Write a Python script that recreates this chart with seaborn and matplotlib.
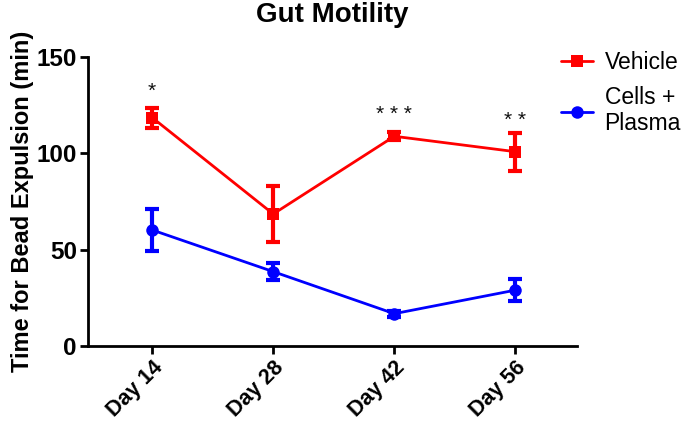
import numpy as np
import pandas as pd
import seaborn as sns
import matplotlib.pyplot as plt

# values
days = ['Day 14', 'Day 28', 'Day 42', 'Day 56']
vehicle = [118.5, 68.5, 108.8, 100.8]
vehicle_err = [5.2, 14.5, 2.0, 9.8]
cells = [60.2, 38.6, 16.8, 29.0]
cells_err = [10.8, 4.3, 1.5, 5.6]
stars = ['*', '', '* * *', '* *']
star_y = [132, 0, 120, 117]

sns.set_style('ticks', {'text.color': 'black', 'axes.labelcolor': 'black',
                        'xtick.color': 'black', 'ytick.color': 'black',
                        'axes.edgecolor': 'black'})
plt.rcParams['font.family'] = ['Liberation Sans', 'DejaVu Sans']

df = pd.DataFrame({
    'x': list(range(len(days))) * 2,
    'time': vehicle + cells,
    'group': ['Vehicle'] * 4 + ['Cells +\nPlasma'] * 4,
})

fig = plt.figure(figsize=(6.85, 4.21), dpi=100)
ax = fig.add_axes([0.1285, 0.178, 0.714, 0.687])

palette = {'Vehicle': '#ff0000', 'Cells +\nPlasma': '#0000ff'}
sns.lineplot(data=df, x='x', y='time', hue='group', style='group',
             markers={'Vehicle': 's', 'Cells +\nPlasma': 'o'}, dashes=False,
             palette=palette, linewidth=2, markersize=9, markeredgewidth=0, ax=ax)

xs = np.arange(len(days))
ax.errorbar(xs, vehicle, yerr=vehicle_err, fmt='none', ecolor='#ff0000',
            elinewidth=3, capsize=5, capthick=3)
ax.errorbar(xs, cells, yerr=cells_err, fmt='none', ecolor='#0000ff',
            elinewidth=3, capsize=5, capthick=3)

for x, s, y in zip(xs, stars, star_y):
    if s:
        ax.text(x, y, s, ha='center', va='center', fontsize=15, color='#111111')

ax.set_xlim(-0.53, 3.51)
ax.set_ylim(0, 150)
ax.set_yticks([0, 50, 100, 150])
ax.set_xticks(xs)
ax.set_xticklabels(days, rotation=45, ha='right', rotation_mode='anchor',
                   fontsize=15.5, fontweight='bold')
for t in ax.get_yticklabels():
    t.set_fontsize(17.5)
    t.set_fontweight('bold')
ax.set_xlabel('')
ax.set_ylabel('Time for Bead Expulsion (min)', fontsize=17, fontweight='bold',
              labelpad=2)
ax.set_title('Gut Motility', fontsize=20, fontweight='bold', pad=25)

sns.despine(ax=ax)
for sp in ['left', 'bottom']:
    ax.spines[sp].set_linewidth(2)
ax.tick_params(width=2, length=6, color='black', pad=2)

ax.legend(loc='upper left', bbox_to_anchor=(0.925, 1.09), frameon=False,
          fontsize=16.5, handlelength=1.4, handletextpad=0.5, labelspacing=0.5)

fig.savefig('out.png', dpi=100)
